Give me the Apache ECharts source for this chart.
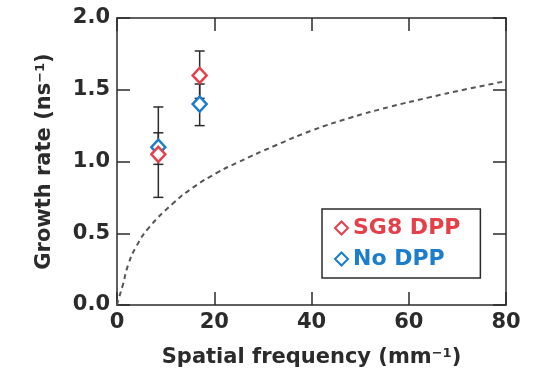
<!DOCTYPE html>
<html>
<head>
<meta charset="utf-8">
<script src="https://cdn.jsdelivr.net/npm/echarts@6/dist/echarts.min.js"></script>
<style>
  html, body { margin: 0; padding: 0; background: #fff; }
  #chart { width: 536px; height: 376px; }
</style>
</head>
<body>
<div id="chart"></div>
<script>
// values
const sg8Points = [[8.5, 1.05], [17, 1.60]];
const sg8Errors = [[0.75, 1.38], [1.44, 1.77]];
const noDppPoints = [[8.5, 1.10], [17, 1.40]];
const noDppErrors = [[0.98, 1.20], [1.25, 1.54]];
const modelCurve = [
    [0, 0], [0.4, 0.05], [1.2, 0.14], [2.3, 0.28], [4, 0.41], [6.7, 0.545],
    [11.6, 0.71], [15.7, 0.82], [20.5, 0.92], [24.6, 0.99], [32.8, 1.115],
    [40, 1.215], [48, 1.305], [56, 1.38], [64, 1.445], [72, 1.505], [80, 1.56]
];

const RED = '#e5404a';
const BLUE = '#1b7dcc';
const INK = '#2b2b2b';
const FONT = 'DejaVu Sans, Verdana, sans-serif';

const chart = echarts.init(document.getElementById('chart'));

// error bar with caps
const errorBar = (xs, bars) => ({
    type: 'custom',
    silent: true,
    z: 1,
    data: xs.map((p, i) => [p[0], bars[i][0], bars[i][1]]),
    renderItem: (params, api) => {
        const lo = api.coord([api.value(0), api.value(1)]);
        const hi = api.coord([api.value(0), api.value(2)]);
        const half = 5;
        const style = { stroke: INK, lineWidth: 1.5 };
        return {
            type: 'group',
            children: [
                { type: 'line', shape: { x1: lo[0], y1: lo[1], x2: hi[0], y2: hi[1] }, style },
                { type: 'line', shape: { x1: lo[0] - half, y1: lo[1], x2: lo[0] + half, y2: lo[1] }, style },
                { type: 'line', shape: { x1: hi[0] - half, y1: hi[1], x2: hi[0] + half, y2: hi[1] }, style }
            ]
        };
    }
});

const axisCommon = {
    axisLine: { show: true, onZero: false, lineStyle: { color: INK, width: 1.5 } },
    axisTick: { show: true, inside: true, length: 13, lineStyle: { color: INK, width: 1.5 } },
    splitLine: { show: false }
};

const titleStyle = {
    fontFamily: FONT, fontSize: 21, fontWeight: 'bold', color: INK,
    rich: { sup: { fontFamily: FONT, fontSize: 13, fontWeight: 'bold', color: INK, verticalAlign: 'top' } }
};

const option = {
    animation: false,
    backgroundColor: '#fff',
    grid: { left: 117, right: 30, top: 18, bottom: 71 },
    legend: {
        orient: 'vertical',
        left: 322,
        top: 209,
        borderColor: INK,
        borderWidth: 1.5,
        borderRadius: 0,
        padding: [8, 20, 8, 12],
        itemGap: 9,
        itemWidth: 13,
        itemHeight: 13,
        textStyle: { fontFamily: FONT, fontSize: 22, fontWeight: 'bold' },
        data: [
            { name: 'SG8 DPP', textStyle: { color: RED } },
            { name: 'No DPP', textStyle: { color: BLUE } }
        ]
    },
    xAxis: [
        {
            ...axisCommon,
            type: 'value',
            min: 0,
            max: 80,
            interval: 20,
            position: 'bottom',
            name: 'Spatial frequency (mm{sup|−1})',
            nameLocation: 'middle',
            nameGap: 42,
            nameTextStyle: titleStyle,
            axisLabel: { margin: 7, fontFamily: FONT, fontSize: 21, fontWeight: 'bold', color: INK }
        },
        {
            ...axisCommon,
            type: 'value',
            min: 0,
            max: 80,
            interval: 20,
            position: 'top',
            axisLabel: { show: false }
        }
    ],
    yAxis: [
        {
            ...axisCommon,
            type: 'value',
            min: 0,
            max: 2,
            interval: 0.5,
            position: 'left',
            name: 'Growth rate (ns{sup|−1})',
            nameLocation: 'middle',
            nameGap: 62,
            nameRotate: 90,
            nameTextStyle: titleStyle,
            axisLabel: {
                margin: 7, fontFamily: FONT, fontSize: 21, fontWeight: 'bold', color: INK,
                formatter: v => v.toFixed(1)
            }
        },
        {
            ...axisCommon,
            type: 'value',
            min: 0,
            max: 2,
            interval: 0.5,
            position: 'right',
            axisLabel: { show: false }
        }
    ],
    series: [
        {
            name: 'model',
            type: 'line',
            data: modelCurve,
            smooth: 0.5,
            symbol: 'none',
            z: 1,
            lineStyle: { color: '#555', width: 2, type: [5, 4] }
        },
        errorBar(sg8Points, sg8Errors),
        errorBar(noDppPoints, noDppErrors),
        {
            name: 'No DPP',
            type: 'scatter',
            data: noDppPoints,
            symbol: 'diamond',
            symbolSize: [14, 15],
            z: 3,
            itemStyle: { color: '#fff', borderColor: BLUE, borderWidth: 2.5, opacity: 1 }
        },
        {
            name: 'SG8 DPP',
            type: 'scatter',
            data: sg8Points,
            symbol: 'diamond',
            symbolSize: [14, 15],
            z: 4,
            itemStyle: { color: '#fff', borderColor: RED, borderWidth: 2.5, opacity: 1 }
        }
    ]
};

chart.setOption(option);
</script>
</body>
</html>
